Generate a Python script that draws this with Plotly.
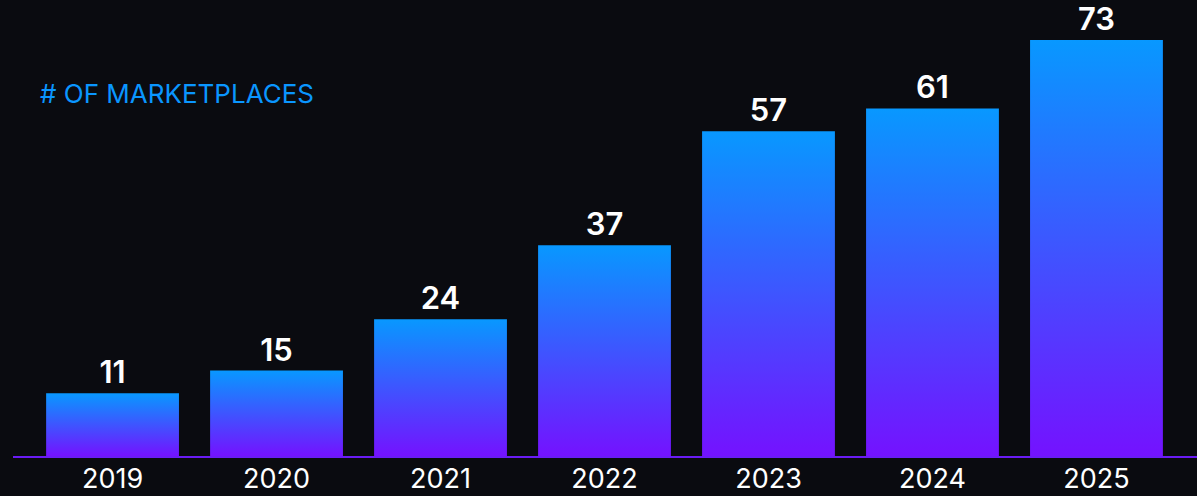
import plotly.graph_objects as go

years = [2019, 2020, 2021, 2022, 2023, 2024, 2025]
marketplaces = [11, 15, 24, 37, 57, 61, 73]
title_text = "# OF MARKETPLACES"

BG = "#0a0b10"
TOP = "#0898ff"
BOTTOM = "#7412ff"
BAR_W = 0.81

fig = go.Figure()

for yr, v in zip(years, marketplaces):
    x0, x1 = yr - BAR_W / 2, yr + BAR_W / 2
    fig.add_trace(go.Scatter(
        x=[x0, x1, x1, x0, x0], y=[0, 0, v, v, 0],
        mode="lines", line=dict(width=0), fill="toself",
        fillgradient=dict(type="vertical",
                          colorscale=[[0, BOTTOM], [1, TOP]]),
        hoverinfo="skip", showlegend=False,
    ))

fig.add_trace(go.Bar(
    x=years, y=marketplaces, width=BAR_W,
    marker=dict(color="rgba(0,0,0,0)", line=dict(width=0)),
    text=[str(v) for v in marketplaces], textposition="outside",
    textfont=dict(family="Inter", size=31, color="white", weight=600),
    cliponaxis=False, showlegend=False,
))

fig.update_layout(
    width=1197, height=496,
    margin=dict(l=13, r=0, t=0, b=40, autoexpand=False),
    paper_bgcolor=BG, plot_bgcolor=BG,
    xaxis=dict(range=[2018.393, 2025.613], tickvals=years,
               ticktext=[str(y) for y in years],
               showgrid=False, zeroline=False, automargin=False,
               showline=True, linecolor="#6a1cf5", linewidth=2,
               ticks="", ticklabelstandoff=-2,
               tickfont=dict(family="Inter", size=27, color="white")),
    yaxis=dict(range=[0, 80.02], visible=False, automargin=False),
    annotations=[dict(text=title_text,
                      xref="x domain", yref="y domain",
                      x=(38 - 13) / 1184, y=(456 - 93) / 456,
                      xanchor="left", yanchor="middle", showarrow=False,
                      font=dict(family="Inter", size=26, color="#0a96ff"))],
)

fig.write_html("out.html")
